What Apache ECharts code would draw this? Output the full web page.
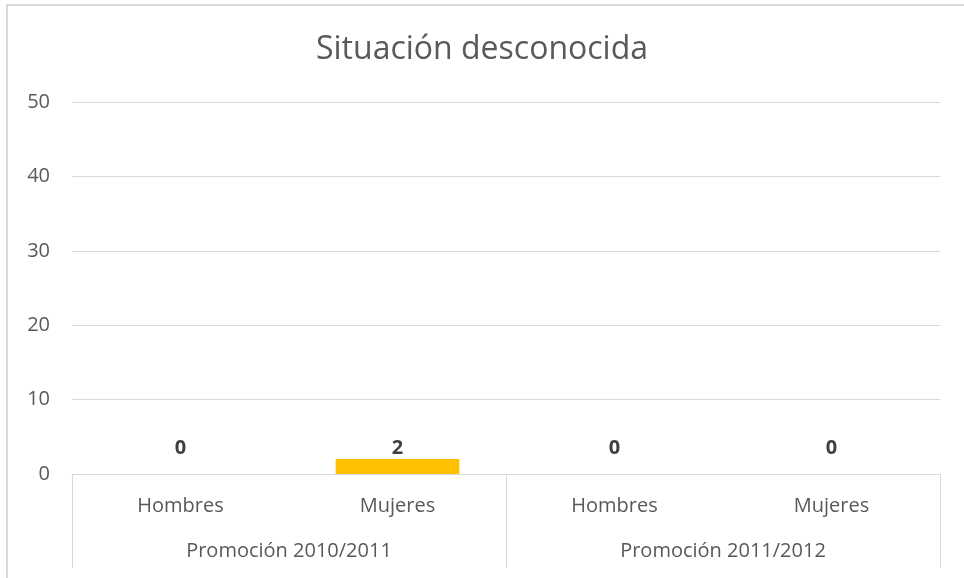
<!DOCTYPE html>
<html>
<head>
<meta charset="utf-8">
<script src="https://cdn.jsdelivr.net/npm/echarts@6/dist/echarts.min.js"></script>
<style>
  html, body { margin: 0; padding: 0; background: #fff; overflow: hidden; }
  #frame {
    position: absolute; left: 6px; top: 4px; width: 970px; height: 590px;
    border-top: 2px solid #d9d9d9; border-left: 2px solid #d9d9d9;
  }
  #chart { position: absolute; left: 0; top: 0; width: 964px; height: 578px; }
</style>
</head>
<body>
<div id="frame"></div>
<div id="chart"></div>
<script>
'use strict';

const title = 'Situación desconocida';
const genders = ['Hombres', 'Mujeres', 'Hombres', 'Mujeres'];
const promotions = ['Promoción 2010/2011', 'Promoción 2011/2012'];
const values = [0, 2, 0, 0];
const yTicks = { min: 0, max: 50, interval: 10 };

const FONT = "'Open Sans', sans-serif";
const TEXT = '#595959';

const chart = echarts.init(document.getElementById('chart'), null, { renderer: 'canvas' });
chart.setOption({
  backgroundColor: 'transparent',
  animation: false,
  title: {
    text: title,
    left: 'center',
    top: 29,
    textStyle: { fontFamily: FONT, fontSize: 32, fontWeight: 'normal', color: TEXT },
  },
  grid: { left: 72, right: 24, top: 102, bottom: 104 },
  xAxis: [
    {
      type: 'category',
      data: genders,
      position: 'bottom',
      axisLine: { lineStyle: { color: '#d9d9d9', width: 1 } },
      axisTick: { show: false },
      axisLabel: { fontFamily: FONT, fontSize: 20, color: TEXT, margin: 22 },
    },
    {
      type: 'category',
      data: promotions,
      position: 'bottom',
      axisLine: { show: false },
      axisTick: { show: true, length: 94, lineStyle: { color: '#d9d9d9', width: 1 } },
      axisLabel: { fontFamily: FONT, fontSize: 20, color: TEXT, margin: 67 },
    },
  ],
  yAxis: {
    type: 'value',
    min: yTicks.min,
    max: yTicks.max,
    interval: yTicks.interval,
    axisLine: { show: false },
    axisTick: { show: false },
    axisLabel: { fontFamily: FONT, fontSize: 20, color: TEXT, margin: 22 },
    splitLine: { lineStyle: { color: '#d9d9d9', width: 1 } },
  },
  series: [{
    type: 'bar',
    xAxisIndex: 0,
    data: values,
    barWidth: '57%',
    itemStyle: { color: '#ffc000' },
    label: {
      show: true,
      position: 'insideBottom',
      distance: 16,
      fontFamily: FONT,
      fontSize: 20,
      fontWeight: 'bold',
      color: '#404040',
    },
  }],
});
</script>
</body>
</html>
